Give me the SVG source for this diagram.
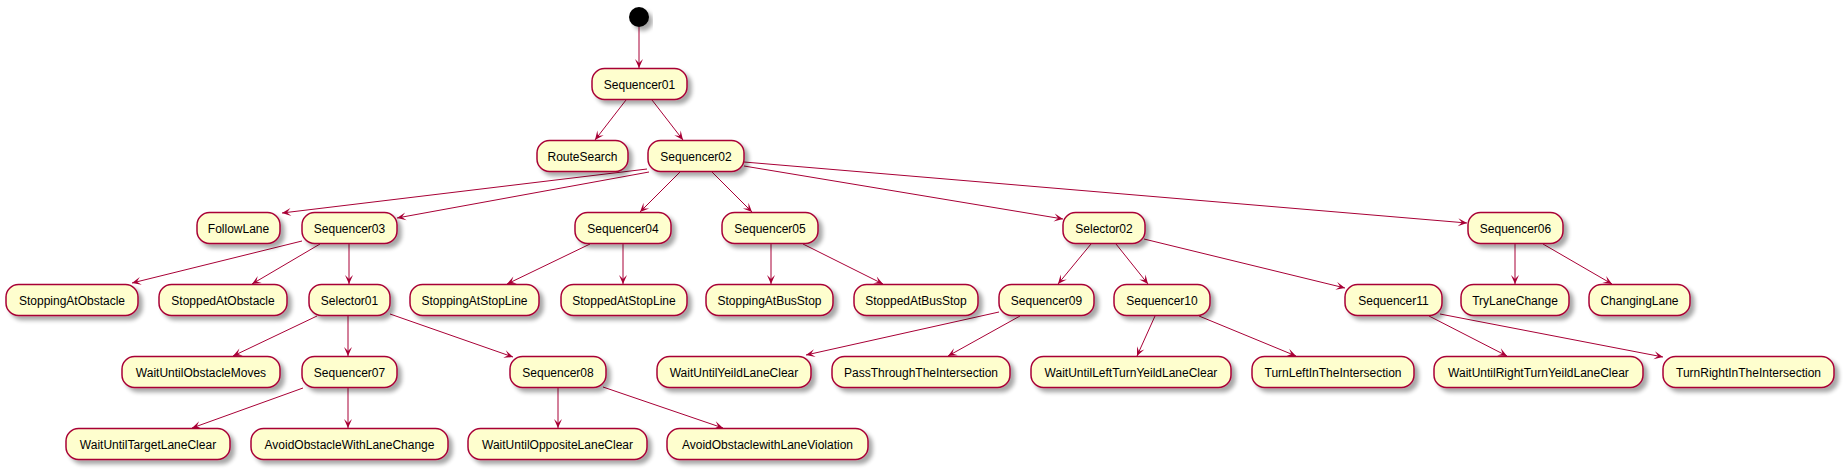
<svg xmlns="http://www.w3.org/2000/svg" width="1844" height="470" viewBox="0 0 1844 470">
<defs>
<filter id="sh" x="-10%" y="-20%" width="130%" height="160%">
<feGaussianBlur in="SourceAlpha" stdDeviation="2"/>
<feOffset dx="4" dy="4" result="b"/>
<feComponentTransfer><feFuncA type="linear" slope="0.35"/></feComponentTransfer>
<feMerge><feMergeNode/><feMergeNode in="SourceGraphic"/></feMerge>
</filter>
<marker id="ar" viewBox="0 0 10 10" refX="10" refY="5" markerWidth="10" markerHeight="10" markerUnits="userSpaceOnUse" orient="auto">
<path d="M10,5 L1,1 L5,5 L1,9 Z" fill="#A80036"/>
</marker>
</defs>
<style>
.n rect{fill:#FEFECE;stroke:#A80036;stroke-width:1.5;filter:url(#sh)}
.n text{font-family:"Liberation Sans",Arial,sans-serif;font-size:12px;fill:#000;text-anchor:middle}
#edges line{stroke:#A80036;stroke-width:1;marker-end:url(#ar)}
</style>
<rect width="1844" height="470" fill="#FFFFFF"/>
<g id="edges">
<line x1="639" y1="27" x2="639" y2="68"/>
<line x1="626" y1="100" x2="595" y2="140"/>
<line x1="652" y1="100" x2="683" y2="140"/>
<line x1="647" y1="169" x2="282" y2="213"/>
<line x1="649" y1="172" x2="397" y2="218"/>
<line x1="680" y1="172" x2="640" y2="212"/>
<line x1="712" y1="172" x2="752" y2="212"/>
<line x1="744" y1="166" x2="1063" y2="219"/>
<line x1="744" y1="162" x2="1467" y2="223"/>
<line x1="302" y1="241" x2="132" y2="283"/>
<line x1="320" y1="244" x2="252" y2="284"/>
<line x1="349" y1="244" x2="349" y2="284"/>
<line x1="590" y1="244" x2="507" y2="284"/>
<line x1="623" y1="244" x2="623" y2="284"/>
<line x1="771" y1="244" x2="771" y2="284"/>
<line x1="803" y1="244" x2="883" y2="284"/>
<line x1="1091" y1="244" x2="1058" y2="284"/>
<line x1="1116" y1="244" x2="1148" y2="284"/>
<line x1="1144" y1="239" x2="1345" y2="288"/>
<line x1="1515" y1="244" x2="1515" y2="284"/>
<line x1="1543" y1="244" x2="1612" y2="284"/>
<line x1="317" y1="316" x2="233" y2="356"/>
<line x1="348" y1="316" x2="348" y2="356"/>
<line x1="390" y1="314" x2="513" y2="357"/>
<line x1="999" y1="312" x2="806" y2="355"/>
<line x1="1020" y1="316" x2="948" y2="356"/>
<line x1="1155" y1="316" x2="1137" y2="356"/>
<line x1="1199" y1="316" x2="1296" y2="356"/>
<line x1="1429" y1="316" x2="1507" y2="356"/>
<line x1="1440" y1="314" x2="1663" y2="357"/>
<line x1="303" y1="388" x2="192" y2="428"/>
<line x1="348" y1="388" x2="348" y2="428"/>
<line x1="558" y1="388" x2="558" y2="428"/>
<line x1="603" y1="387" x2="723" y2="428"/>
</g>
<g id="start"><circle cx="639" cy="17" r="10" fill="#000" filter="url(#sh)"/></g>
<g id="Sequencer01" class="n"><rect x="592" y="68.5" width="95" height="31" rx="12.5"/><text x="639.5" y="88.5">Sequencer01</text></g>
<g id="RouteSearch" class="n"><rect x="537" y="140.5" width="91" height="31" rx="12.5"/><text x="582.5" y="160.5">RouteSearch</text></g>
<g id="Sequencer02" class="n"><rect x="648" y="140.5" width="96" height="31" rx="12.5"/><text x="696" y="160.5">Sequencer02</text></g>
<g id="FollowLane" class="n"><rect x="197" y="212.5" width="83" height="31" rx="12.5"/><text x="238.5" y="232.5">FollowLane</text></g>
<g id="Sequencer03" class="n"><rect x="302" y="212.5" width="95" height="31" rx="12.5"/><text x="349.5" y="232.5">Sequencer03</text></g>
<g id="Sequencer04" class="n"><rect x="575" y="212.5" width="96" height="31" rx="12.5"/><text x="623" y="232.5">Sequencer04</text></g>
<g id="Sequencer05" class="n"><rect x="722" y="212.5" width="96" height="31" rx="12.5"/><text x="770" y="232.5">Sequencer05</text></g>
<g id="Selector02" class="n"><rect x="1063" y="212.5" width="82" height="31" rx="12.5"/><text x="1104" y="232.5">Selector02</text></g>
<g id="Sequencer06" class="n"><rect x="1468" y="212.5" width="95" height="31" rx="12.5"/><text x="1515.5" y="232.5">Sequencer06</text></g>
<g id="StoppingAtObstacle" class="n"><rect x="6" y="284.5" width="132" height="31" rx="12.5"/><text x="72" y="304.5">StoppingAtObstacle</text></g>
<g id="StoppedAtObstacle" class="n"><rect x="159" y="284.5" width="128" height="31" rx="12.5"/><text x="223" y="304.5">StoppedAtObstacle</text></g>
<g id="Selector01" class="n"><rect x="309" y="284.5" width="81" height="31" rx="12.5"/><text x="349.5" y="304.5">Selector01</text></g>
<g id="StoppingAtStopLine" class="n"><rect x="410" y="284.5" width="129" height="31" rx="12.5"/><text x="474.5" y="304.5">StoppingAtStopLine</text></g>
<g id="StoppedAtStopLine" class="n"><rect x="561" y="284.5" width="126" height="31" rx="12.5"/><text x="624" y="304.5">StoppedAtStopLine</text></g>
<g id="StoppingAtBusStop" class="n"><rect x="706" y="284.5" width="127" height="31" rx="12.5"/><text x="769.5" y="304.5">StoppingAtBusStop</text></g>
<g id="StoppedAtBusStop" class="n"><rect x="854" y="284.5" width="124" height="31" rx="12.5"/><text x="916" y="304.5">StoppedAtBusStop</text></g>
<g id="Sequencer09" class="n"><rect x="999" y="284.5" width="95" height="31" rx="12.5"/><text x="1046.5" y="304.5">Sequencer09</text></g>
<g id="Sequencer10" class="n"><rect x="1114" y="284.5" width="96" height="31" rx="12.5"/><text x="1162" y="304.5">Sequencer10</text></g>
<g id="Sequencer11" class="n"><rect x="1345" y="284.5" width="97" height="31" rx="12.5"/><text x="1393.5" y="304.5">Sequencer11</text></g>
<g id="TryLaneChange" class="n"><rect x="1461" y="284.5" width="108" height="31" rx="12.5"/><text x="1515" y="304.5">TryLaneChange</text></g>
<g id="ChangingLane" class="n"><rect x="1589" y="284.5" width="101" height="31" rx="12.5"/><text x="1639.5" y="304.5">ChangingLane</text></g>
<g id="WaitUntilObstacleMoves" class="n"><rect x="122" y="356.5" width="158" height="31" rx="12.5"/><text x="201" y="376.5">WaitUntilObstacleMoves</text></g>
<g id="Sequencer07" class="n"><rect x="302" y="356.5" width="95" height="31" rx="12.5"/><text x="349.5" y="376.5">Sequencer07</text></g>
<g id="Sequencer08" class="n"><rect x="510" y="356.5" width="96" height="31" rx="12.5"/><text x="558" y="376.5">Sequencer08</text></g>
<g id="WaitUntilYeildLaneClear" class="n"><rect x="657" y="356.5" width="154" height="31" rx="12.5"/><text x="734" y="376.5">WaitUntilYeildLaneClear</text></g>
<g id="PassThroughTheIntersection" class="n"><rect x="832" y="356.5" width="178" height="31" rx="12.5"/><text x="921" y="376.5">PassThroughTheIntersection</text></g>
<g id="WaitUntilLeftTurnYeildLaneClear" class="n"><rect x="1031" y="356.5" width="200" height="31" rx="12.5"/><text x="1131" y="376.5">WaitUntilLeftTurnYeildLaneClear</text></g>
<g id="TurnLeftInTheIntersection" class="n"><rect x="1252" y="356.5" width="162" height="31" rx="12.5"/><text x="1333" y="376.5">TurnLeftInTheIntersection</text></g>
<g id="WaitUntilRightTurnYeildLaneClear" class="n"><rect x="1434" y="356.5" width="209" height="31" rx="12.5"/><text x="1538.5" y="376.5">WaitUntilRightTurnYeildLaneClear</text></g>
<g id="TurnRightInTheIntersection" class="n"><rect x="1663" y="356.5" width="171" height="31" rx="12.5"/><text x="1748.5" y="376.5">TurnRightInTheIntersection</text></g>
<g id="WaitUntilTargetLaneClear" class="n"><rect x="66" y="428.5" width="164" height="31" rx="12.5"/><text x="148" y="448.5">WaitUntilTargetLaneClear</text></g>
<g id="AvoidObstacleWithLaneChange" class="n"><rect x="251" y="428.5" width="197" height="31" rx="12.5"/><text x="349.5" y="448.5">AvoidObstacleWithLaneChange</text></g>
<g id="WaitUntilOppositeLaneClear" class="n"><rect x="468" y="428.5" width="179" height="31" rx="12.5"/><text x="557.5" y="448.5">WaitUntilOppositeLaneClear</text></g>
<g id="AvoidObstaclewithLaneViolation" class="n"><rect x="667" y="428.5" width="201" height="31" rx="12.5"/><text x="767.5" y="448.5">AvoidObstaclewithLaneViolation</text></g>
</svg>
